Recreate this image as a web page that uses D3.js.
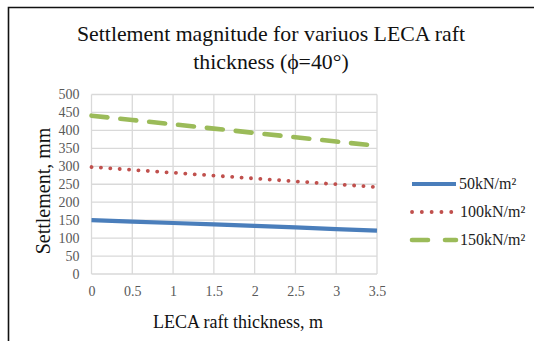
<!DOCTYPE html>
<html>
<head>
<meta charset="utf-8">
<script src="https://cdn.jsdelivr.net/npm/d3@7"></script>
<style>
  html, body { margin: 0; padding: 0; background: #fff; }
  svg { display: block; }
  text { font-family: "Liberation Serif", "Times New Roman", serif; }
</style>
</head>
<body>
<svg id="chart" width="534" height="341"></svg>
<script>
// Raft thickness (m) and settlement (mm) for each applied pressure
const thickness = [0, 0.5, 1, 1.5, 2, 2.5, 3, 3.5];
const s50  = [150, 146, 142, 138, 134, 130, 125, 121];
const s100 = [298, 290, 282, 274, 266, 258, 250, 242];
const s150 = [441, 429, 417, 405, 393, 381, 369, 357];
const seriesNames = ["50kN/m²", "100kN/m²", "150kN/m²"];
const xTicks = [0, 0.5, 1, 1.5, 2, 2.5, 3, 3.5];
const yTicks = [0, 50, 100, 150, 200, 250, 300, 350, 400, 450, 500];

const svg = d3.select("#chart");

// Frame around the chart (top and left edges visible)
svg.append("path")
  .attr("d", "M8.5,341 L8.5,7.5 L534,7.5")
  .attr("fill", "none").attr("stroke", "#111").attr("stroke-width", 1.6);

const plot = { left: 91.5, right: 377, top: 94.5, bottom: 274 };
const x = d3.scaleLinear().domain([0, 3.5]).range([plot.left, plot.right]);
const y = d3.scaleLinear().domain([0, 500]).range([plot.bottom, plot.top]);

// Gridlines
const grid = svg.append("g").attr("stroke", "#d9d9d9").attr("stroke-width", 1.3);
grid.selectAll(".gx").data(xTicks).join("line")
  .attr("x1", d => x(d)).attr("x2", d => x(d))
  .attr("y1", plot.top).attr("y2", plot.bottom);
grid.selectAll(".gy").data(yTicks).join("line")
  .attr("x1", plot.left).attr("x2", plot.right)
  .attr("y1", d => y(d)).attr("y2", d => y(d));

// Axes (tick labels only)
const xAxis = svg.append("g").attr("transform", `translate(0,${plot.bottom})`)
  .call(d3.axisBottom(x).tickValues(xTicks).tickSize(0).tickPadding(12).tickFormat(d3.format("")));
const yAxis = svg.append("g").attr("transform", `translate(${plot.left},0)`)
  .call(d3.axisLeft(y).tickValues(yTicks).tickSize(0).tickPadding(12));
[xAxis, yAxis].forEach(a => {
  a.select(".domain").remove();
  a.selectAll("text")
    .attr("font-family", "Liberation Serif, Times New Roman, serif")
    .attr("font-size", 14).attr("fill", "#595959");
});

// Series lines
const line = d3.line().x((d, i) => x(thickness[i])).y(d => y(d));
const styles = [
  { color: "#4a7ebb", width: 4.2, dash: null, cap: "butt" },
  { color: "#c0504d", width: 3.8, dash: "0.1,9.3", cap: "round" },
  { color: "#9bbb59", width: 4.6, dash: "16,13", cap: "round" }
];
[s50, s100, s150].forEach((vals, k) => {
  const st = styles[k];
  svg.append("path").datum(vals)
    .attr("d", line)
    .attr("fill", "none")
    .attr("stroke", st.color)
    .attr("stroke-width", st.width)
    .attr("stroke-linecap", st.cap)
    .attr("stroke-dasharray", st.dash);
});

// Legend
const legend = svg.append("g");
seriesNames.forEach((name, k) => {
  const st = styles[k];
  const ly = 184 + k * 28;
  legend.append("line")
    .attr("x1", 412).attr("x2", k === 1 ? 452 : 456)
    .attr("y1", ly).attr("y2", ly)
    .attr("stroke", st.color)
    .attr("stroke-width", st.width)
    .attr("stroke-linecap", st.cap)
    .attr("stroke-dasharray", k === 1 ? "0.1,9.7" : (k === 2 ? "16,17" : null));
  legend.append("text")
    .attr("x", k === 0 ? 459 : 460).attr("y", ly + 5)
    .attr("font-size", 16).attr("fill", "#222")
    .text(name);
});

// Titles
svg.append("text")
  .attr("x", 271).attr("y", 41).attr("text-anchor", "middle")
  .attr("font-size", 21.8).attr("fill", "#111")
  .text("Settlement magnitude  for variuos LECA raft");
svg.append("text")
  .attr("x", 271).attr("y", 69).attr("text-anchor", "middle")
  .attr("font-size", 21.8).attr("fill", "#111")
  .text("thickness (ϕ=40°)");

svg.append("text")
  .attr("transform", `translate(50,191) rotate(-90)`)
  .attr("text-anchor", "middle")
  .attr("font-size", 20).attr("fill", "#111")
  .text("Settlement, mm");

svg.append("text")
  .attr("x", 238).attr("y", 328).attr("text-anchor", "middle")
  .attr("font-size", 18).attr("fill", "#111")
  .text("LECA raft thickness, m");
</script>
</body>
</html>
